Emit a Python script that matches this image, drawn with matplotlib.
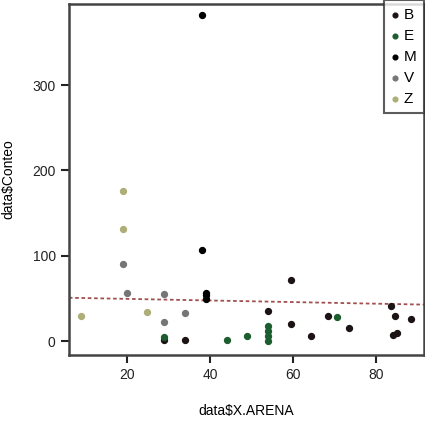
import matplotlib.pyplot as plt
import numpy as np

plt.rcParams['font.family'] = ['Liberation Sans', 'DejaVu Sans']

# points per group (X.ARENA, Conteo)
groups = ['B', 'E', 'M', 'V', 'Z']
colors = {'B': '#1c1414', 'E': '#1d5e30', 'M': '#000000', 'V': '#767676', 'Z': '#aeae78'}

x_B = [29, 34, 54, 59.4, 59.4, 64.4, 68.5, 73.5, 83.6, 84.5, 84, 85, 88.4]
y_B = [2, 2, 35, 72, 20, 6, 30, 16, 41, 30, 7, 10, 26]
x_E = [29, 44, 49, 54, 54, 54, 54, 70.6]
y_E = [5, 2, 6, 18, 12, 6, 0, 28]
x_M = [38.2, 38.2, 39, 39, 39]
y_M = [382, 107, 50, 54, 57]
x_V = [19, 20, 29, 29, 34]
y_V = [90, 57, 55, 23, 33]
x_Z = [19, 19, 9, 25]
y_Z = [176, 132, 30, 34]

data = {'B': (x_B, y_B), 'E': (x_E, y_E), 'M': (x_M, y_M),
        'V': (x_V, y_V), 'Z': (x_Z, y_Z)}

# fitted line (abline)
line_intercept = 51.6
line_slope = -0.094

fig = plt.figure(figsize=(4.25, 4.34), dpi=100)
ax = fig.add_axes([0.162, 0.182, 0.836, 0.809])

for g in groups:
    xs, ys = data[g]
    ax.scatter(xs, ys, s=18, color=colors[g], label=g, zorder=3)

xlim = (6.1, 91.5)
ax.set_xlim(xlim)
ax.set_ylim(-16, 395)
xx = np.array(xlim)
ax.plot(xx, line_intercept + line_slope * xx, linestyle=(0, (2, 1.5)),
        color='#a05050', linewidth=1.3, zorder=2)

ax.set_xticks([20, 40, 60, 80])
ax.set_yticks([0, 100, 200, 300])
ax.tick_params(direction='out', length=6, width=1.5, labelsize=10, colors='#222222')
for sp in ax.spines.values():
    sp.set_linewidth(1.8)
    sp.set_color('#444444')

ax.set_xlabel('data$X.ARENA', fontsize=10, labelpad=16)
ax.set_ylabel('data$Conteo', fontsize=10, labelpad=12)

leg = ax.legend(loc='upper right', frameon=True, fancybox=False, handletextpad=0.3,
                handlelength=0.5, borderaxespad=0, labelspacing=0.45, fontsize=11,
                markerscale=0.8, borderpad=0.5, handleheight=0.6,
                bbox_to_anchor=(1.0, 1.01))
leg.get_frame().set_edgecolor('#333333')
leg.get_frame().set_linewidth(1.5)

fig.savefig('out.png', dpi=100)
